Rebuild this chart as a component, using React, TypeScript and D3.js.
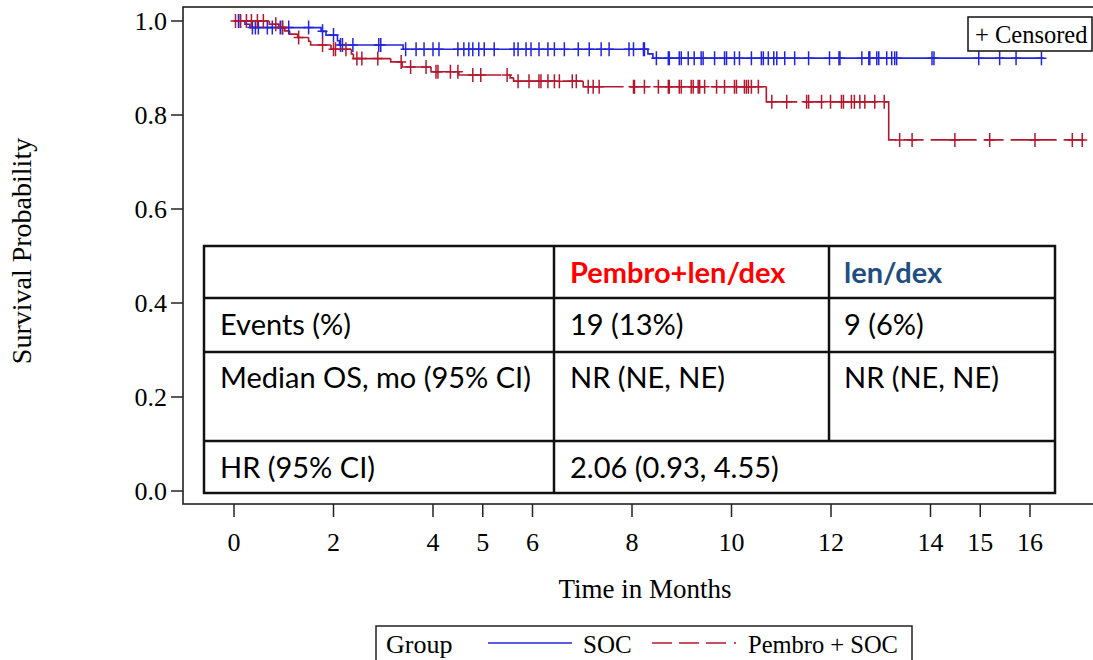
import React, { useEffect, useRef } from "react";
import * as d3 from "d3";

const xTicks = [0, 2, 4, 5, 6, 8, 10, 12, 14, 15, 16];
const yTicks = [0, 0.2, 0.4, 0.6, 0.8, 1.0];

// SOC arm (blue): event times in months, survival after each event
const socEventTimes = [0.22, 0.32, 1.75, 1.85, 2.08, 2.12, 3.4, 8.32, 8.42];
const socSurvival = [0.993, 0.986, 0.978, 0.97, 0.958, 0.949, 0.94, 0.93, 0.921];
const socCensorTimes = [
  0.09, 0.13, 0.37, 0.43, 0.49, 0.67, 0.77, 0.93, 0.97, 1.1, 1.5, 1.78, 2.0, 2.14, 2.18, 2.39,
  2.91, 2.95, 3.45, 3.66, 3.82, 4.0, 4.12, 4.5, 4.62, 4.72, 4.8, 4.92, 5.03, 5.23, 5.63, 5.71,
  5.87, 5.97, 6.13, 6.31, 6.44, 6.64, 6.92, 7.14, 7.38, 7.54, 7.94, 8.03, 8.23, 8.25, 8.49,
  8.73, 8.75, 8.95, 8.99, 9.13, 9.25, 9.39, 9.43, 9.66, 9.86, 9.9, 10.06, 10.16, 10.4, 10.6,
  10.64, 10.74, 10.85, 10.91, 11.07, 11.27, 11.55, 11.97, 12.16, 12.18, 12.62, 12.76, 12.78,
  12.92, 12.96, 13.12, 13.22, 13.28, 13.32, 14.03, 14.07, 14.97, 15.39, 15.72, 16.23,
];
const socLastTime = 16.28;

// Pembro + SOC arm (red)
const pembroEventTimes = [
  0.71, 0.9, 1.02, 1.12, 1.28, 1.5, 1.54, 1.95, 2.36, 2.4, 3.15, 3.38, 3.96, 4.52, 5.55, 5.62,
  7.02, 10.7, 13.16,
];
const pembroSurvival = [
  0.993, 0.986, 0.979, 0.972, 0.965, 0.957, 0.949, 0.94, 0.93, 0.92, 0.913, 0.902, 0.892, 0.885,
  0.879, 0.872, 0.86, 0.828, 0.747,
];
const pembroCensorTimes = [
  0.03, 0.13, 0.25, 0.35, 0.47, 0.59, 0.84, 0.98, 1.3, 1.78, 2.0, 2.04, 2.25, 2.47, 2.57, 2.89,
  3.36, 3.55, 3.86, 4.06, 4.1, 4.35, 4.5, 4.8, 4.96, 5.49, 5.71, 5.93, 6.13, 6.17, 6.31, 6.44,
  6.54, 6.8, 6.88, 7.12, 7.22, 7.34, 8.03, 8.05, 8.25, 8.53, 8.73, 8.75, 8.95, 8.99, 9.19, 9.23,
  9.33, 9.36, 9.46, 9.7, 9.86, 10.06, 10.1, 10.26, 10.3, 10.34, 10.4, 10.54, 10.81, 11.11, 11.51,
  11.55, 11.81, 11.99, 12.21, 12.25, 12.41, 12.47, 12.58, 12.68, 12.88, 13.07, 13.38, 13.63,
  14.49, 15.19, 16.1, 16.85, 17.05,
];
const pembroLastTime = 17.15;

const tableHeader = ["", "Pembro+len/dex", "len/dex"];
const tableRows = [
  ["Events (%)", "19 (13%)", "9 (6%)"],
  ["Median OS, mo (95% CI)", "NR (NE, NE)", "NR (NE, NE)"],
  ["HR (95% CI)", "2.06 (0.93, 4.55)"],
];

const BLUE = "#2424dc";
const RED = "#b3182f";
const SERIF = "'Liberation Serif', 'Times New Roman', serif";
const SANS = "Lato, 'Open Sans', sans-serif";

function survivalAt(t: number, times: number[], surv: number[]) {
  let s = 1;
  for (let i = 0; i < times.length; i++) if (times[i] <= t) s = surv[i];
  return s;
}

export default function App() {
  const ref = useRef<SVGSVGElement | null>(null);

  useEffect(() => {
    const svg = d3.select(ref.current);
    svg.selectAll("*").remove();

    const x = d3.scaleLinear().domain([0, 16]).range([234, 1030]);
    const y = d3.scaleLinear().domain([0, 1]).range([491, 21]);

    // frame
    svg.append("rect")
      .attr("x", 183).attr("y", 7).attr("width", 930).attr("height", 497)
      .attr("fill", "none").attr("stroke", "#222").attr("stroke-width", 1.6);

    // y axis ticks
    const yg = svg.append("g");
    yTicks.forEach((v) => {
      yg.append("line").attr("x1", 171).attr("x2", 183).attr("y1", y(v)).attr("y2", y(v))
        .attr("stroke", "#222").attr("stroke-width", 1.5);
      yg.append("text").attr("x", 167).attr("y", y(v) + 9).attr("text-anchor", "end")
        .attr("font-family", SERIF).attr("font-size", 26).text(d3.format(".1f")(v));
    });
    svg.append("text")
      .attr("transform", "translate(31,251) rotate(-90)")
      .attr("text-anchor", "middle").attr("font-family", SERIF).attr("font-size", 28)
      .text("Survival Probability");

    // x axis ticks
    const xg = svg.append("g");
    xTicks.forEach((v) => {
      xg.append("line").attr("x1", x(v)).attr("x2", x(v)).attr("y1", 504).attr("y2", 517)
        .attr("stroke", "#222").attr("stroke-width", 1.5);
      xg.append("text").attr("x", x(v)).attr("y", 551).attr("text-anchor", "middle")
        .attr("font-family", SERIF).attr("font-size", 26).text(v);
    });
    svg.append("text").attr("x", 645).attr("y", 598).attr("text-anchor", "middle")
      .attr("font-family", SERIF).attr("font-size", 27).text("Time in Months");

    // SOC curve (solid)
    const socPts: [number, number][] = [[0, 1]];
    socEventTimes.forEach((t, i) => socPts.push([t, socSurvival[i]]));
    socPts.push([socLastTime, socSurvival[socSurvival.length - 1]]);
    const line = d3.line<[number, number]>()
      .x((d) => x(d[0])).y((d) => y(d[1])).curve(d3.curveStepAfter);
    svg.append("path").attr("d", line(socPts)).attr("fill", "none")
      .attr("stroke", BLUE).attr("stroke-width", 1.6);

    // Pembro curve: each step drawn on its own, so the dash restarts
    const pg = svg.append("g");
    const ends = pembroEventTimes.concat([pembroLastTime]);
    let prevS = 1;
    ends.forEach((tNext, i) => {
      const seg: [number, number][] = [];
      if (i === 0) {
        seg.push([0, 1], [tNext, 1]);
      } else {
        const t = pembroEventTimes[i - 1];
        const s = pembroSurvival[i - 1];
        seg.push([t, prevS], [t, s], [tNext, s]);
        prevS = s;
      }
      pg.append("path").attr("d", d3.line()(seg.map((d) => [x(d[0]), y(d[1])]) as [number, number][]))
        .attr("fill", "none").attr("stroke", RED).attr("stroke-width", 1.6)
        .attr("stroke-dasharray", "46 7 20 7");
    });

    // censor marks
    const plus = (g: any, t: number, s: number, color: string) => {
      const px = x(t);
      const py = y(s);
      g.append("path").attr("d", `M${px - 5},${py}h10M${px},${py - 7}v14`)
        .attr("stroke", color).attr("stroke-width", 1.5).attr("fill", "none");
    };
    const cg = svg.append("g");
    socCensorTimes.forEach((t) => plus(cg, t, survivalAt(t, socEventTimes, socSurvival), BLUE));
    pembroCensorTimes.forEach((t) => plus(cg, t, survivalAt(t, pembroEventTimes, pembroSurvival), RED));

    // censored legend
    svg.append("rect").attr("x", 968).attr("y", 17).attr("width", 124).attr("height", 34)
      .attr("fill", "white").attr("stroke", "#111").attr("stroke-width", 1.5);
    svg.append("text").attr("x", 975).attr("y", 43).attr("font-family", SERIF)
      .attr("font-size", 24.5).text("+ Censored");

    // table
    const tb = svg.append("g");
    const colX = [204, 554, 829, 1055];
    const rowY = [246, 298, 352, 441, 493];
    tb.append("rect").attr("x", colX[0]).attr("y", rowY[0])
      .attr("width", colX[3] - colX[0]).attr("height", rowY[4] - rowY[0])
      .attr("fill", "white").attr("stroke", "#111").attr("stroke-width", 2.5);
    [rowY[1], rowY[2], rowY[3]].forEach((ry) => {
      tb.append("line").attr("x1", colX[0]).attr("x2", colX[3]).attr("y1", ry).attr("y2", ry)
        .attr("stroke", "#111").attr("stroke-width", 2.5);
    });
    tb.append("line").attr("x1", colX[1]).attr("x2", colX[1]).attr("y1", rowY[0]).attr("y2", rowY[4])
      .attr("stroke", "#111").attr("stroke-width", 2.5);
    tb.append("line").attr("x1", colX[2]).attr("x2", colX[2]).attr("y1", rowY[0]).attr("y2", rowY[3])
      .attr("stroke", "#111").attr("stroke-width", 2.5);
    const textX = [220, 570, 844];
    const headColors = ["#000", "#ff0000", "#1f4e80"];
    tableHeader.forEach((h, j) => {
      tb.append("text").attr("x", textX[j]).attr("y", 283).attr("font-family", SANS)
        .attr("font-weight", 700).attr("font-size", 29).attr("fill", headColors[j]).text(h);
    });
    const baselines = [335, 388, 478];
    tableRows.forEach((row, i) => {
      row.forEach((cell, j) => {
        tb.append("text").attr("x", textX[j]).attr("y", baselines[i]).attr("font-family", SANS)
          .attr("font-size", 29).attr("fill", "#000").text(cell);
      });
    });

    // group legend
    svg.append("rect").attr("x", 376).attr("y", 626).attr("width", 536).attr("height", 50)
      .attr("fill", "white").attr("stroke", "#222").attr("stroke-width", 1.5);
    svg.append("text").attr("x", 386).attr("y", 653).attr("font-family", SERIF)
      .attr("font-size", 26).text("Group");
    svg.append("line").attr("x1", 488).attr("x2", 572).attr("y1", 643).attr("y2", 643)
      .attr("stroke", BLUE).attr("stroke-width", 1.6);
    svg.append("text").attr("x", 583).attr("y", 653).attr("font-family", SERIF)
      .attr("font-size", 25).text("SOC");
    svg.append("line").attr("x1", 652).attr("x2", 738).attr("y1", 643).attr("y2", 643)
      .attr("stroke", RED).attr("stroke-width", 1.6).attr("stroke-dasharray", "20 7 20 7 20 8 2 20");
    svg.append("text").attr("x", 748).attr("y", 653).attr("font-family", SERIF)
      .attr("font-size", 24.5).text("Pembro + SOC");
  }, []);

  return (
    <svg
      ref={ref}
      width={1093}
      height={660}
      style={{ position: "absolute", left: 0, top: 0, background: "white" }}
    />
  );
}
